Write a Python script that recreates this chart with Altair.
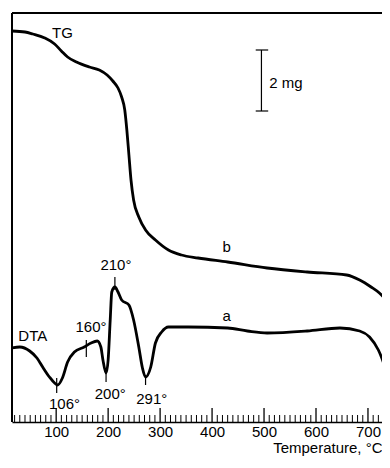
import altair as alt
import pandas as pd

# --- data (temperature in °C, signal in arbitrary units) ---
tg_temp = [15, 40, 55, 78, 97, 110, 122, 139, 164, 183, 198, 209, 219, 226, 232, 236,
           240, 244, 249, 259, 272, 291, 316, 341, 373, 430, 506, 583, 659, 684, 706, 722, 735]
tg_signal = [397, 396, 394, 390, 384, 377, 371, 366, 361, 358, 353, 347, 340, 331, 318, 298,
             273, 248, 228, 211, 198, 188, 178, 173, 170, 166, 160, 156, 153, 148, 141, 135, 128]

dta_temp = [15, 30, 49, 63, 74, 87, 97, 103, 112, 122, 135, 154, 167, 179, 186, 190, 196, 200,
            204, 207, 213, 219, 226, 240, 249, 259, 266, 272, 282, 291, 303, 316, 354, 430, 468,
            506, 583, 646, 684, 703, 720, 735]
dta_signal = [80, 81, 77, 70, 61, 51, 45, 43, 50, 66, 76, 81, 85, 87, 81, 68, 55, 68,
              108, 136, 141, 136, 128, 123, 108, 81, 60, 51, 61, 85, 96, 101, 101, 100, 97,
              95, 97, 100, 97, 91, 78, 58]

label_text = ["TG", "DTA", "106°", "200°", "291°", "210°", "160°", "b", "a"]
label_temp = [112, 55, 116, 204, 284, 215, 167, 428, 428]
label_signal = [395, 92, 24, 34, 29, 163, 101, 181, 112]

marker_temp = [101, 196, 272, 213, 158]
marker_low = [35, 46, 43, 138, 71]
marker_high = [50, 58, 51, 151, 88]

scale_text = ["2 mg"]
scale_temp = [495]
scale_low = [317]
scale_high = [378]
scale_cap_left = [484]
scale_cap_right = [508]
scale_label_temp = [510]
scale_label_signal = [345]

major_ticks = [100, 200, 300, 400, 500, 600, 700]
minor_ticks = [t for t in range(20, 727, 10) if t % 100 != 0]

W, H = 370, 409
FONT = "Liberation Sans"

curves = pd.DataFrame({
    "T": tg_temp + dta_temp,
    "v": tg_signal + dta_signal,
    "s": ["TG"] * len(tg_temp) + ["DTA"] * len(dta_temp),
})
labels = pd.DataFrame({"t": label_text, "T": label_temp, "v": label_signal})
markers = pd.DataFrame({"T": marker_temp, "lo": marker_low, "hi": marker_high})
scale_bar = pd.DataFrame({"T": scale_temp, "lo": scale_low, "hi": scale_high,
                          "cl": scale_cap_left, "cr": scale_cap_right})
scale_lab = pd.DataFrame({"t": scale_text, "T": scale_label_temp, "v": scale_label_signal})
majors = pd.DataFrame({"T": major_ticks})
minors = pd.DataFrame({"T": minor_ticks})

xs = alt.Scale(domain=[15, 727], nice=False, zero=False)
ys = alt.Scale(domain=[6, 415], nice=False, zero=False)
xax = alt.Axis(
    values=major_ticks, title="Temperature, °C", tickSize=0, labelPadding=2,
    labelFont=FONT, labelFontSize=15, labelColor="black",
    titleFont=FONT, titleFontSize=15, titleFontWeight="normal", titleColor="black",
    titleAnchor="end", titleAlign="right", titleBaseline="alphabetic",
    titleX=W, titleY=30,
    domainColor="black", domainWidth=1.6, grid=False)


def X(field):
    return alt.X(field, scale=xs, axis=xax, title="Temperature, °C")


def Y(field):
    return alt.Y(field, scale=ys, axis=None)


lines = alt.Chart(curves).mark_line(color="black", strokeWidth=2.8, interpolate="monotone",
                                    clip=True).encode(
    x=X("T:Q"), y=Y("v:Q"), detail="s:N")

texts = alt.Chart(labels).mark_text(font=FONT, fontSize=15, color="black", align="center",
                                    baseline="middle").encode(
    x=X("T:Q"), y=Y("v:Q"), text="t:N")

mark_rules = alt.Chart(markers).mark_rule(color="black", strokeWidth=1.2).encode(
    x=X("T:Q"), y=Y("lo:Q"), y2="hi:Q")

bar_v = alt.Chart(scale_bar).mark_rule(color="black", strokeWidth=1.2).encode(
    x=X("T:Q"), y=Y("lo:Q"), y2="hi:Q")
bar_top = alt.Chart(scale_bar).mark_rule(color="black", strokeWidth=1.2).encode(
    x=X("cl:Q"), x2="cr:Q", y=Y("hi:Q"))
bar_bot = alt.Chart(scale_bar).mark_rule(color="black", strokeWidth=1.2).encode(
    x=X("cl:Q"), x2="cr:Q", y=Y("lo:Q"))
bar_lab = alt.Chart(scale_lab).mark_text(font=FONT, fontSize=15, color="black", align="left",
                                         baseline="middle").encode(
    x=X("T:Q"), y=Y("v:Q"), text="t:N")

maj = alt.Chart(majors).mark_rule(color="black", strokeWidth=1.3).encode(
    x=X("T:Q"), y=alt.value(H), y2=alt.value(H - 14))
mino = alt.Chart(minors).mark_rule(color="black", strokeWidth=1.0).encode(
    x=X("T:Q"), y=alt.value(H), y2=alt.value(H - 7))

left_frame = alt.Chart(majors).mark_rule(color="black", strokeWidth=1.6).encode(
    x=alt.value(0), y=alt.value(0), y2=alt.value(H))
top_frame = alt.Chart(majors).mark_rule(color="black", strokeWidth=1.4).encode(
    x=alt.value(0), x2=alt.value(W), y=alt.value(0))

chart = alt.layer(
    lines, texts, mark_rules, bar_v, bar_top, bar_bot, bar_lab, maj, mino, left_frame, top_frame
).properties(
    width=W, height=H,
    autosize=alt.AutoSizeParams(type="none"),
    padding={"left": 4, "top": 5, "right": 0, "bottom": 36},
).configure_view(stroke=None).configure(background="white")

chart.save("out.html", embed_options={"renderer": "svg", "actions": False})
